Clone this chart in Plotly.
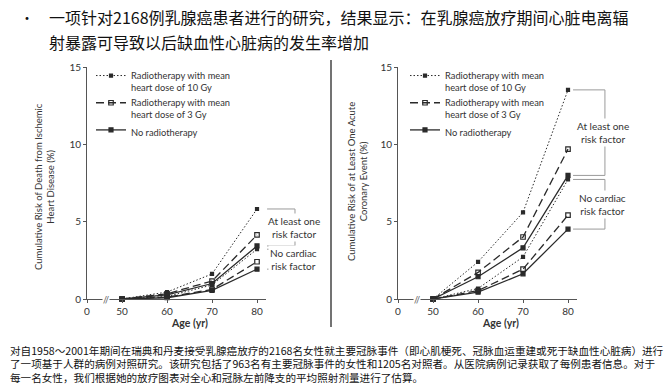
import plotly.graph_objects as go

# ---------------- data ----------------
ages = [50, 60, 70, 80]
x_tick_vals = [50, 60, 70, 80]
x_tick_text = ["50", "60", "70", "80"]
y_tick_vals = [0, 5, 10, 15]
axis_zero_label = "0"

# Left panel: cumulative risk of death from ischemic heart disease (%)
ihd_10gy_risk = [0, 0.45, 1.62, 5.82]
ihd_3gy_risk = [0, 0.34, 1.16, 4.14]
ihd_none_risk = [0, 0.27, 1.00, 3.43]
ihd_10gy_norisk = [0, 0.16, 0.91, 3.22]
ihd_3gy_norisk = [0, 0.12, 0.62, 2.41]
ihd_none_norisk = [0, 0.08, 0.56, 1.93]

# Right panel: cumulative risk of at least one acute coronary event (%)
ace_10gy_risk = [0, 2.40, 5.60, 13.52]
ace_3gy_risk = [0, 1.72, 4.01, 9.69]
ace_none_risk = [0, 1.44, 3.31, 7.99]
ace_10gy_norisk = [0, 0.68, 2.72, 7.73]
ace_3gy_norisk = [0, 0.54, 1.93, 5.42]
ace_none_norisk = [0, 0.44, 1.63, 4.52]

legend_names = [
    "Radiotherapy with mean<br>heart dose of 10 Gy",
    "Radiotherapy with mean<br>heart dose of 3 Gy",
    "No radiotherapy",
]
group_labels = ["At least one<br>risk factor", "No cardiac<br>risk factor"]

title_lines = [
    "一项针对2168例乳腺癌患者进行的研究，结果显示：在乳腺癌放疗期间心脏电离辐",
    "射暴露可导致以后缺血性心脏病的发生率增加",
]
footnote_lines = [
    "对自1958～2001年期间在瑞典和丹麦接受乳腺癌放疗的2168名女性就主要冠脉事件（即心肌梗死、冠脉血运重建或死于缺血性心脏病）进行",
    "了一项基于人群的病例对照研究。该研究包括了963名有主要冠脉事件的女性和1205名对照者。从医院病例记录获取了每例患者信息。对于",
    "每一名女性，我们根据她的放疗图表对全心和冠脉左前降支的平均照射剂量进行了估算。",
]
y_titles = [
    "Cumulative Risk of Death from Ischemic<br>Heart Disease (%)",
    "Cumulative Risk of at Least One Acute<br>Coronary Event (%)",
]
x_title = "<b>Age (yr)</b>"

# ---------------- style ----------------
LINE = "#2a2a2a"
AX = "#555555"
TXT = "#333333"
EN = "Lato, 'Open Sans', sans-serif"
CJK = "'Noto Sans CJK SC', sans-serif"

styles = [
    dict(dash="1.5px,2px", width=1.0, symbol="square", size=3),
    dict(dash="8px,4px", width=1.3, symbol="square-open", size=4.5),
    dict(dash="solid", width=1.3, symbol="square", size=4),
]

fig = go.Figure()

panels = [
    dict(xa="x", ya="y", leg="legend",
         risk=[ihd_10gy_risk, ihd_3gy_risk, ihd_none_risk],
         norisk=[ihd_10gy_norisk, ihd_3gy_norisk, ihd_none_norisk]),
    dict(xa="x2", ya="y2", leg="legend2",
         risk=[ace_10gy_risk, ace_3gy_risk, ace_none_risk],
         norisk=[ace_10gy_norisk, ace_3gy_norisk, ace_none_norisk]),
]

for p in panels:
    for i, st in enumerate(styles):
        for grp, show in ((p["risk"], True), (p["norisk"], False)):
            fig.add_trace(go.Scatter(
                x=ages, y=grp[i], xaxis=p["xa"], yaxis=p["ya"],
                mode="lines+markers", name=legend_names[i],
                legend=p["leg"], showlegend=show, cliponaxis=False,
                line=dict(color=LINE, width=st["width"], dash=st["dash"]),
                marker=dict(symbol=st["symbol"], size=st["size"], color=LINE,
                            line=dict(color=LINE, width=1.2)),
            ))

W, H = 667, 386
def px(v):
    return v / W
def py(v):
    return (H - v) / H

x_axis_min = 42.2
axis_common = dict(showgrid=False, zeroline=False, showline=True, linecolor=AX,
                   linewidth=1, ticks="outside", ticklen=3, tickcolor=AX,
                   tickfont=dict(family=EN, size=10, color=TXT))

xdoms = [[px(87), px(266)], [px(398), px(577)]]
ydom = [py(299), py(67)]

layout_axes = {}
for k, (xa, ya) in enumerate([("xaxis", "yaxis"), ("xaxis2", "yaxis2")]):
    layout_axes[xa] = dict(axis_common, domain=xdoms[k], range=[x_axis_min, 82],
                           tickvals=[x_axis_min] + x_tick_vals,
                           ticktext=[axis_zero_label] + x_tick_text,
                           anchor="y" if k == 0 else "y2")
    layout_axes[ya] = dict(axis_common, domain=ydom, range=[0, 15],
                           tickvals=y_tick_vals,
                           anchor="x" if k == 0 else "x2")

legend_common = dict(xanchor="left", yanchor="top", valign="top",
                     bgcolor="rgba(0,0,0,0)", font=dict(family=EN, size=9.3, color=TXT),
                     tracegroupgap=0, itemwidth=30)
fig.update_layout(
    width=W, height=H, margin=dict(l=0, r=0, t=0, b=0, autoexpand=False),
    paper_bgcolor="white", plot_bgcolor="white",
    font=dict(family=EN, color=TXT),
    legend=dict(legend_common, x=px(91), y=py(63)),
    legend2=dict(legend_common, x=px(405), y=py(63)),
    **layout_axes,
)

shapes = []
annotations = []
bracket_cfg = [("x", "y", 1.006, 1.162, 1.156, px(45), py(187)),
               ("x2", "y2", 0.978, 1.156, 1.145, px(357), py(181))]
for k, (xa, ya, x0, x1, xt, ytx, yty) in enumerate(bracket_cfg):
    p = panels[k]
    groups = [p["risk"], p["norisk"]]
    for g, grp in enumerate(groups):
        vals = [s[-1] for s in grp]
        top, bot = max(vals), min(vals)
        for yy in (top, bot):
            shapes.append(dict(type="line", xref=f"{xa} domain", yref=ya,
                               x0=x0, x1=x1, y0=yy, y1=yy,
                               line=dict(color="#9a9a9a", width=1)))
        shapes.append(dict(type="line", xref=f"{xa} domain", yref=ya,
                           x0=x1, x1=x1, y0=bot, y1=top,
                           line=dict(color="#9a9a9a", width=1)))
        annotations.append(dict(xref=f"{xa} domain", yref=ya, x=xt, y=(top + bot) / 2,
                                xanchor="center", yanchor="middle",
                                text=group_labels[g], showarrow=False, bgcolor="white",
                                font=dict(family=EN, size=10, color=TXT), align="center"))
    # y title
    annotations.append(dict(xref="paper", yref="paper", x=ytx, y=yty, text=y_titles[k],
                            xanchor="center", yanchor="middle",
                            textangle=-90, showarrow=False, align="center",
                            font=dict(family=EN, size=9.5, color=TXT)))
    # x title
    annotations.append(dict(xref=xa, yref="paper", x=(ages[0] + ages[-1]) / 2, y=py(323),
                            xanchor="center", yanchor="middle",
                            text=x_title, showarrow=False,
                            font=dict(family=EN, size=10.5, color=TXT)))
    # axis break mark
    annotations.append(dict(xref=f"{xa} domain", yref=ya, x=0.105, y=0, text="//",
                            xanchor="center", yanchor="middle",
                            showarrow=False, bgcolor="white", borderpad=0,
                            font=dict(family=EN, size=9, color=AX)))

# divider between panels
shapes.append(dict(type="line", xref="paper", yref="paper", x0=px(331), x1=px(331),
                   y0=py(327), y1=py(60), line=dict(color="#444444", width=1.5)))

# title
annotations.append(dict(xref="paper", yref="paper", x=px(27), y=py(17), text="•",
                        xanchor="center", yanchor="middle",
                        showarrow=False, font=dict(family=CJK, size=14, color="#111111")))
for line, yv in zip(title_lines, [17, 42]):
    annotations.append(dict(xref="paper", yref="paper", x=px(47), y=py(yv), text=line,
                            xanchor="left", yanchor="middle", showarrow=False,
                            font=dict(family=CJK, size=16, color="#111111")))
for line, yv in zip(footnote_lines, [350, 363, 377]):
    annotations.append(dict(xref="paper", yref="paper", x=px(8), y=py(yv), text=line,
                            xanchor="left", yanchor="middle", showarrow=False,
                            font=dict(family=CJK, size=10.6, color="#111111")))

fig.update_layout(shapes=shapes, annotations=annotations)
fig.write_html("out.html", config={"displayModeBar": False},
               post_script="document.body.style.margin='0';")
